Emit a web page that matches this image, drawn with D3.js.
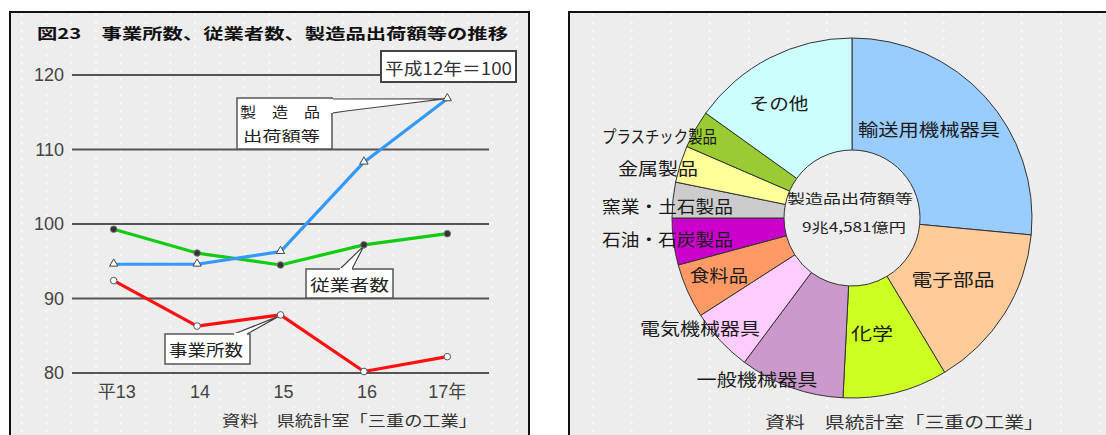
<!DOCTYPE html>
<html><head><meta charset="utf-8">
<script src="https://cdn.jsdelivr.net/npm/d3@7"></script>
<style>
html,body{margin:0;padding:0;background:#fff;}
svg{display:block;}
text{font-family:"Liberation Sans","Noto Sans CJK JP",sans-serif;}
.jp{font-family:"Noto Sans CJK JP","Liberation Sans",sans-serif;}
</style></head>
<body>
<svg id="c" width="1106" height="435"></svg>
<script>
// ---------- data ----------
const years = ["平13", "14", "15", "16", "17年"];
const yTicks = [80, 90, 100, 110, 120];
const establishments = [92.4, 86.3, 87.8, 80.2, 82.2];   // 事業所数
const employees      = [99.3, 96.1, 94.5, 97.2, 98.7];   // 従業者数
const shipments      = [94.6, 94.6, 96.3, 108.3, 116.8]; // 製造品出荷額等

const industries = ["輸送用機械器具", "電子部品", "化学", "一般機械器具", "電気機械器具", "食料品",
                    "石油・石炭製品", "窯業・土石製品", "金属製品", "プラスチック製品", "その他"];
const shares = [26.5, 14.9, 9.4, 9.4, 5.7, 4.9, 4.2, 3.2, 3.3, 3.4, 15.1];
const industryColors = ["#99ccff", "#ffcc99", "#ccff22", "#cc99cc", "#ffccff", "#ff9966",
                        "#cc00cc", "#cccccc", "#ffff99", "#99cc33", "#ccffff"];

const svg = d3.select("#c");

// ---------- panels ----------
const defs = svg.append("defs");
function dotPattern(id, w, x0) {
  const p = defs.append("pattern").attr("id", id).attr("patternUnits", "userSpaceOnUse")
    .attr("width", w).attr("height", 8).attr("x", x0).attr("y", 14);
  p.append("rect").attr("x", 0).attr("y", 0).attr("width", 1.6).attr("height", 1.6).attr("fill", "#fff");
}
dotPattern("dotsL", 24.75, 21);
dotPattern("dotsR", 39, 592);

function panel(x, y, w, h, pat) {
  svg.append("rect").attr("x", x).attr("y", y).attr("width", w).attr("height", h).attr("fill", "#ededed");
  svg.append("rect").attr("x", x).attr("y", y).attr("width", w).attr("height", h).attr("fill", `url(#${pat})`);
  svg.append("rect").attr("x", x).attr("y", y).attr("width", w).attr("height", h)
    .attr("fill", "none").attr("stroke", "#111").attr("stroke-width", 2);
}
panel(10, 12, 519, 440, "dotsL");
panel(569, 12, 600, 440, "dotsR");

function label(g, x, y, str, width, anchor, size, opts = {}) {
  const t = g.append("text").attr("class", "jp").attr("x", x).attr("y", y)
    .attr("dominant-baseline", "central").attr("text-anchor", anchor || "middle")
    .attr("font-size", size).attr("fill", opts.fill || "#222").text(str);
  if (opts.weight) t.attr("font-weight", opts.weight);
  if (width) t.attr("textLength", width).attr("lengthAdjust", "spacingAndGlyphs");
  return t;
}

// ---------- left: line chart ----------
const L = svg.append("g");
const x = d3.scalePoint().domain(years).range([72, 489]).padding(0.5);
const y = d3.scaleLinear().domain([80, 120]).range([373, 75]);

label(L, 37, 32, "図23　事業所数、従業者数、製造品出荷額等の推移", 471, "start", 15, {weight: "bold", fill: "#111"});

L.append("g").selectAll("line").data(yTicks).join("line")
  .attr("x1", 72).attr("x2", 489).attr("y1", d => y(d)).attr("y2", d => y(d))
  .attr("stroke", "#555").attr("stroke-width", 2);
L.append("g").selectAll("text").data(yTicks).join("text")
  .attr("x", 64).attr("y", d => y(d)).attr("dominant-baseline", "central").attr("text-anchor", "end")
  .attr("font-size", 18).attr("fill", "#444").text(d => d);
L.append("g").selectAll("text").data(years).join("text")
  .attr("x", d => x(d) + (d === "17年" ? 0 : 3)).attr("y", 392).attr("dominant-baseline", "central")
  .attr("text-anchor", "middle").attr("font-size", 18).attr("fill", "#444").text(d => d);

label(L, 222, 419, "資料　県統計室「三重の工業」", 255, "start", 15, {fill: "#333"});

// base box
L.append("rect").attr("x", 381).attr("y", 51).attr("width", 135).attr("height", 31)
  .attr("fill", "#fff").attr("stroke", "#444").attr("stroke-width", 2);
label(L, 385, 67, "平成12年＝100", 127, "start", 17, {fill: "#333"});

// callouts
function callout(bx, by, bw, bh, ptr, lines, fs) {
  L.append("path").attr("d", d3.line()(ptr) + "Z").attr("fill", "#fff").attr("stroke", "#444").attr("stroke-width", 1.2);
  L.append("rect").attr("x", bx).attr("y", by).attr("width", bw).attr("height", bh)
    .attr("fill", "#fff").attr("stroke", "#555").attr("stroke-width", 1.5);
  L.append("path").attr("d", d3.line()(ptr.slice(0, 1).concat(ptr.slice(-1)))).attr("stroke", "#fff").attr("stroke-width", 2);
  lines.forEach(l => label(L, l[0], l[1], l[2], l[3], "start", fs, {fill: "#222"}));
}
const tipS = [x(years[4]) - 3, y(shipments[4])];
callout(237, 98, 95, 51, [[332, 99], tipS, [403, 104], [346, 111], [332, 113]],
  [[240, 111, "製　造　品", 80], [243, 135, "出荷額等", 77]], 14);
const tipE = [x(years[3]), y(employees[3]) + 1];
callout(306, 269, 87, 29, [[340, 269], tipE, [352, 269]], [[310, 284, "従業者数", 79]], 16);
const tipB = [x(years[2]) - 1, y(establishments[2]) + 1];
callout(165, 334, 85, 30, [[234, 334], tipB, [247, 334]], [[169, 349, "事業所数", 74]], 16);

// series
const line = d3.line().x((d, i) => x(years[i])).y(d => y(d));
const series = [
  {v: establishments, c: "#ff1010"},
  {v: employees, c: "#11cc11"},
  {v: shipments, c: "#3399ff"}
];
series.forEach(s => {
  L.append("path").attr("d", line(s.v)).attr("fill", "none").attr("stroke", s.c)
    .attr("stroke-width", 3.2).attr("stroke-linejoin", "round");
});
L.append("g").selectAll("circle").data(establishments).join("circle")
  .attr("cx", (d, i) => x(years[i])).attr("cy", d => y(d)).attr("r", 3.3)
  .attr("fill", "#fff").attr("stroke", "#555").attr("stroke-width", 1);
L.append("g").selectAll("circle").data(employees).join("circle")
  .attr("cx", (d, i) => x(years[i])).attr("cy", d => y(d)).attr("r", 3.3)
  .attr("fill", "#333").attr("stroke", "#777").attr("stroke-width", 1);
L.append("g").selectAll("path").data(shipments).join("path")
  .attr("d", d3.symbol(d3.symbolTriangle, 30))
  .attr("transform", (d, i) => `translate(${x(years[i])},${y(d) - 0.5})`)
  .attr("fill", "#fff").attr("stroke", "#444").attr("stroke-width", 1);

// ---------- right: donut ----------
const R = svg.append("g");
const cx = 852, cy = 218;
const pie = d3.pie().sort(null).value(d => d)(shares);
const arc = d3.arc().innerRadius(68).outerRadius(180);
R.append("g").attr("transform", `translate(${cx},${cy})`).selectAll("path").data(pie).join("path")
  .attr("d", arc).attr("fill", (d, i) => industryColors[i]).attr("stroke", "#333").attr("stroke-width", 1);

// label layout: offsets from donut center
const labelLayout = {
  "輸送用機械器具": [6, -90, 142, "start"],
  "電子部品": [101, 60, 83, "middle"],
  "化学": [20, 114, 42, "middle"],
  "一般機械器具": [-95, 160, 121, "middle"],
  "電気機械器具": [-152, 109, 120, "middle"],
  "食料品": [-133, 56, 58, "middle"],
  "石油・石炭製品": [-250, 20, 131, "start"],
  "窯業・土石製品": [-250, -13, 131, "start"],
  "金属製品": [-234, -51, 80, "start"],
  "プラスチック製品": [-250, -83, 115, "start"],
  "その他": [-73, -116, 59, "middle"]
};
industries.forEach(n => {
  const o = labelLayout[n];
  label(R, cx + o[0], cy + o[1], n, o[2], o[3], 17, {fill: "#1a1a1a"});
});
label(R, 850, 197, "製造品出荷額等", 126, "middle", 13, {fill: "#222"});
label(R, 854, 226, "9兆4,581億円", 104, "middle", 13, {fill: "#222"});
label(R, 765, 421, "資料　県統計室「三重の工業」", 279, "start", 16, {fill: "#333"});
</script>
</body></html>
